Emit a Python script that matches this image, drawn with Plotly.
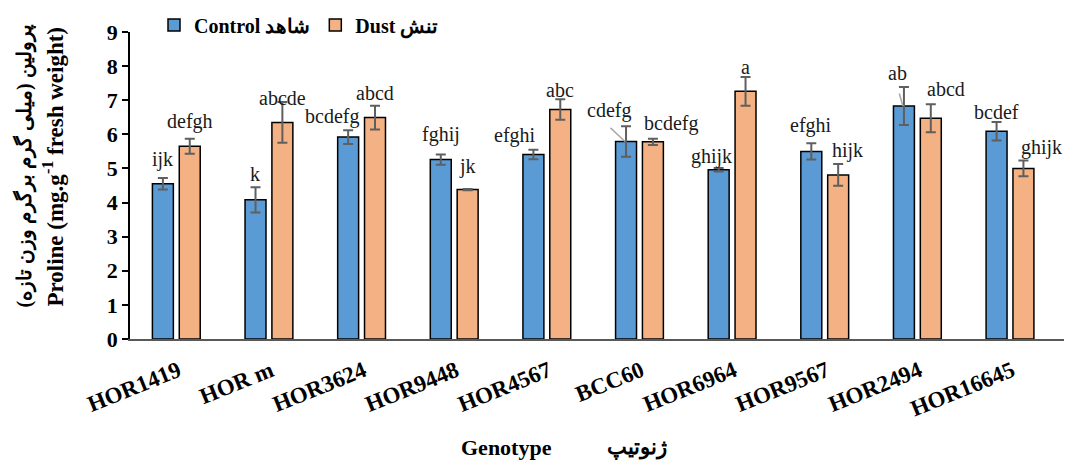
import plotly.graph_objects as go

genotypes = ["HOR1419", "HOR m", "HOR3624", "HOR9448", "HOR4567", "BCC60",
             "HOR6964", "HOR9567", "HOR2494", "HOR16645"]
control = [4.55, 4.08, 5.92, 5.26, 5.41, 5.79, 4.96, 5.50, 6.83, 6.09]
control_err = [0.17, 0.37, 0.20, 0.15, 0.14, 0.45, 0.05, 0.24, 0.56, 0.27]
dust = [5.65, 6.35, 6.49, 4.38, 6.73, 5.78, 7.26, 4.81, 6.47, 5.00]
dust_err = [0.22, 0.60, 0.35, 0.02, 0.30, 0.09, 0.42, 0.32, 0.41, 0.23]
control_letters = ["ijk", "k", "bcdefg", "fghij", "efghi", "cdefg", "ghijk", "efghi", "ab", "bcdef"]
dust_letters = ["defgh", "abcde", "abcd", "jk", "abc", "bcdefg", "a", "hijk", "abcd", "ghijk"]

SERIF = "Times New Roman, Liberation Serif, serif"
ERR_COLOR = "#5f5f5f"

# style: pixel nudges (dx, dy) of individual significance letters, as placed in the original
LABEL_NUDGE = {
    ("HOR1419", 0): (0, 5), ("HOR1419", 1): (0, 4),
    ("HOR m", 1): (0, -9),
    ("HOR3624", 0): (-16, 0),
    ("HOR9448", 0): (0, 6), ("HOR9448", 1): (0, 9),
    ("HOR4567", 0): (-18, 1), ("HOR4567", 1): (0, -4),
    ("BCC60", 0): (-17, 2), ("BCC60", 1): (18, 2),
    ("HOR6964", 0): (-7, -2), ("HOR6964", 1): (0, -3),
    ("HOR9567", 0): (0, 4), ("HOR9567", 1): (9, 0),
    ("HOR2494", 0): (-6, 1), ("HOR2494", 1): (15, 2),
    ("HOR16645", 0): (0, -3), ("HOR16645", 1): (18, 0),
}
# style: thin leader lines from a displaced letter to its bar (series index, tail offset px)
LEADERS = {("BCC60", 0): (-16, -15), ("HOR2494", 0): (-4, -14)}

fig = go.Figure()
fig.add_trace(go.Bar(
    x=genotypes, y=control, name="Control شاهد",
    marker=dict(color="#5B9BD5", line=dict(color="black", width=1.5)),
    error_y=dict(type="data", array=control_err, color=ERR_COLOR, thickness=2, width=5),
))
fig.add_trace(go.Bar(
    x=genotypes, y=dust, name="Dust تنش",
    marker=dict(color="#F4B183", line=dict(color="black", width=1.5)),
    error_y=dict(type="data", array=dust_err, color=ERR_COLOR, thickness=2, width=5),
))

annotations = []
series = ((control, control_err, control_letters, -13.5),
          (dust, dust_err, dust_letters, 13.5))
for i, g in enumerate(genotypes):
    for s, (vals, errs, letters, shift) in enumerate(series):
        dx, dy = LABEL_NUDGE.get((g, s), (0, 0))
        annotations.append(dict(
            x=g, y=vals[i] + errs[i], xref="x", yref="y",
            text=letters[i], showarrow=False, xshift=shift + dx, yshift=dy,
            yanchor="bottom", xanchor="center",
            font=dict(family=SERIF, size=20, color="#1a1a1a"),
        ))
        if (g, s) in LEADERS:
            ax, ay = LEADERS[(g, s)]
            annotations.append(dict(
                x=g, y=vals[i], xref="x", yref="y", xshift=shift - 1,
                text="", showarrow=True, arrowhead=0, arrowwidth=1.5,
                arrowcolor="#a8a8a8", ax=ax, ay=ay, standoff=0, startstandoff=0,
            ))

# y-axis title (two lines, rotated)
annotations.append(dict(
    x=-0.113, y=0.563, xref="paper", yref="paper", xanchor="center", yanchor="middle",
    text="<b>پرولین (میلی گرم برگرم وزن تازه)</b>", textangle=-90, showarrow=False,
    font=dict(family=SERIF, size=20, color="black"),
))
annotations.append(dict(
    x=-0.082, y=0.563, xref="paper", yref="paper", xanchor="center", yanchor="middle",
    text="<b>Proline (mg.g<sup>-1</sup> fresh weight)</b>", textangle=-90, showarrow=False,
    font=dict(family=SERIF, size=23, color="black"),
))
# x-axis title
annotations.append(dict(
    x=(506 - 130) / 934, y=-0.352, xref="paper", yref="paper", xanchor="center", yanchor="middle",
    text="<b>Genotype</b>", showarrow=False,
    font=dict(family=SERIF, size=22, color="black"),
))
annotations.append(dict(
    x=(637 - 130) / 934, y=-0.352, xref="paper", yref="paper", xanchor="center", yanchor="middle",
    text="<b>ژنوتیپ</b>", showarrow=False,
    font=dict(family=SERIF, size=21, color="black"),
))

fig.update_layout(
    width=1069, height=461,
    margin=dict(l=130, r=5, t=32, b=122, autoexpand=False),
    paper_bgcolor="white", plot_bgcolor="white",
    barmode="group", bargap=0.42, bargroupgap=0.22,
    font=dict(family=SERIF, color="black"),
    showlegend=True,
    legend=dict(
        orientation="h", xref="container", yref="container",
        x=154 / 1069, y=1 - 25 / 461, xanchor="left", yanchor="middle",
        font=dict(family=SERIF, size=20, color="black", weight="bold"),
        bgcolor="rgba(0,0,0,0)", itemwidth=30, tracegroupgap=0,
    ),
    annotations=annotations,
    xaxis=dict(
        showline=True, linecolor="#595959", linewidth=1.5,
        tickangle=-22, ticks="", automargin=False,
        ticklabelstandoff=8, ticklabelshift=2,
        tickfont=dict(family=SERIF, size=23, color="black", weight="bold"),
        showgrid=False,
    ),
    yaxis=dict(
        range=[0, 9], dtick=1, showgrid=False, zeroline=False, automargin=False,
        showline=True, linecolor="black", linewidth=1.5,
        ticks="outside", ticklen=6, tickwidth=1.5, tickcolor="black",
        tickfont=dict(family=SERIF, size=22, color="black", weight="bold"),
    ),
)

fig.write_html("out.html", config={"displayModeBar": False},
               post_script="document.body.style.margin='0';")
